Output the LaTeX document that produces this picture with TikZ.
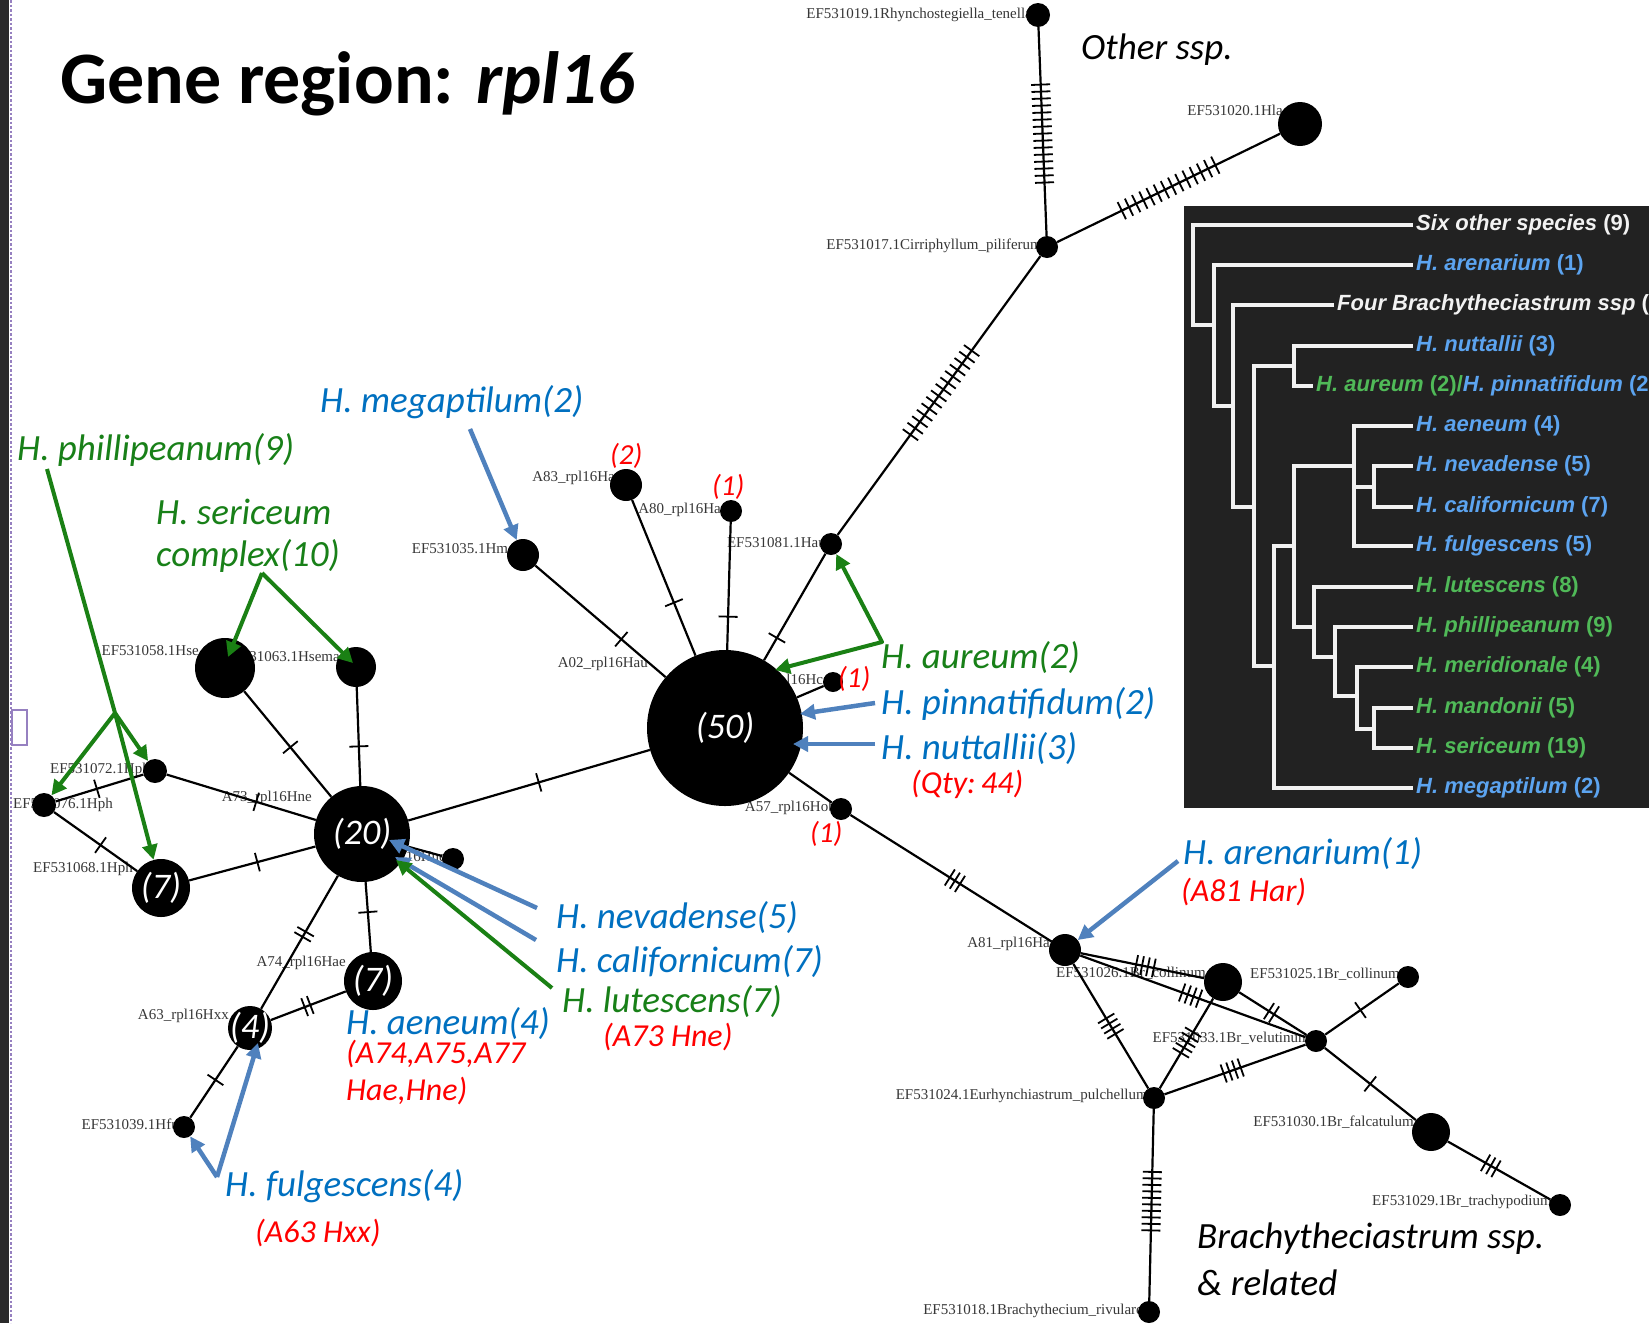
\documentclass[tikz,border=0pt]{standalone}
\usepackage{fontspec}
\setmainfont{Carlito}
\newfontfamily\hapfont{Liberation Serif}
\newfontfamily\treefont{Liberation Sans}
\usetikzlibrary{decorations.markings,arrows.meta}

\definecolor{annblue}{RGB}{0,112,192}
\definecolor{anngreen}{RGB}{24,128,24}
\definecolor{annred}{RGB}{255,0,0}
\definecolor{arrblue}{RGB}{79,129,189}
\definecolor{arrgreen}{RGB}{26,128,20}
\definecolor{panelbg}{RGB}{34,34,34}
\definecolor{treeblue}{RGB}{92,164,240}
\definecolor{treegreen}{RGB}{80,186,88}
\definecolor{treewhite}{RGB}{242,242,242}
\definecolor{hapgray}{RGB}{55,55,55}
\definecolor{framepurple}{RGB}{150,128,192}
\definecolor{stripdark}{RGB}{42,42,42}

\tikzset{
  hap/.style={circle, fill=black, draw=none, inner sep=0pt, minimum size=#1},
  hapnum/.style={text=white, font=\fontsize{36}{36}\selectfont\itshape, inner sep=0pt},
  haplab/.style={font=\hapfont\fontsize{15}{16}\selectfont, text=hapgray, inner sep=0pt},
  edge/.style={line width=2.2pt, black},
  mut/.style n args={3}{postaction={decorate, decoration={markings,
      mark=at position #1 with {\foreach \k in {1,...,#2}{%
        \draw[line width=1.8pt] ({(\k-(#2+1)/2)*#3},-9.5) -- ({(\k-(#2+1)/2)*#3},9.5);}}}}},
  ann/.style={font=\fontsize{37}{40}\selectfont\itshape, inner sep=0pt, anchor=west},
  annred/.style={font=\fontsize{32}{34}\selectfont\itshape, inner sep=0pt, anchor=west, text=annred},
  cnt/.style={font=\fontsize{29}{30}\selectfont\itshape, inner sep=0pt, anchor=west, text=annred},
  barrow/.style={draw=arrblue, line width=4.5pt, line join=round, -{Triangle[length=15pt,width=15pt]}},
  garrow/.style={draw=arrgreen, line width=4pt, line join=round, -{Triangle[length=15pt,width=15pt]}},
  branch/.style={draw=treewhite, line width=3.5pt},
  tlab/.style={font=\treefont\bfseries\fontsize{22}{24}\selectfont, anchor=west, inner sep=0pt, inner xsep=3pt},
}

\begin{document}
\begin{tikzpicture}[x=1pt,y=-1pt]
\useasboundingbox (0,0) rectangle (1649,1323);
\clip (0,0) rectangle (1649,1323);
\fill[white] (0,0) rectangle (1649,1323);

% window edge on the left
\fill[stripdark] (0,0) rectangle (9,1323);
\draw[framepurple, line width=2.5pt, dash pattern=on 2.5pt off 2pt] (11,0) -- (11,1323);
\draw[framepurple, line width=1.5pt] (12,710) rectangle (27,745);

% title
\node[anchor=base west, inner sep=0pt, font=\fontsize{74}{74}\selectfont\bfseries] (title) at (60,103) {Gene region: \textit{rpl16}};

% ---------- haplotype labels ----------
\node[haplab, anchor=east] at (1032,15) {EF531019.1Rhynchostegiella\_tenella};
\node[haplab, anchor=east] at (1283,110) {EF531020.1Hla};
\node[haplab, anchor=east] at (1042,246) {EF531017.1Cirriphyllum\_piliferum};
\node[haplab, anchor=east] at (826,543) {EF531081.1Hau};
\node[haplab, anchor=east] at (726,510) {A80\_rpl16Har};
\node[haplab, anchor=east] at (620,478) {A83\_rpl16Har};
\node[haplab, anchor=east] at (515,549) {EF531035.1Hme};
\node[haplab, anchor=east] at (648,664) {A02\_rpl16Hau};
\node[haplab, anchor=east] at (830,681) {rpl16Hca};
\node[haplab, anchor=east] at (836,808) {A57\_rpl16Hob};
\node[haplab, anchor=east] at (199,651) {EF531058.1Hse};
\node[haplab, anchor=east] at (340,657) {EF531063.1Hsema};
\node[haplab, anchor=east] at (150,770) {EF531072.1Hph};
\node[haplab, anchor=west] at (13,805) {EF531076.1Hph};
\node[haplab, anchor=east] at (312,798) {A73\_rpl16Hne};
\node[haplab, anchor=east] at (133,869) {EF531068.1Hph};
\node[haplab, anchor=east] at (346,963) {A74\_rpl16Hae};
\node[haplab, anchor=east] at (229,1016) {A63\_rpl16Hxx};
\node[haplab, anchor=east] at (179,1124) {EF531039.1Hfu};
\node[haplab, anchor=east] at (446,858) {rpl16Hne};
\node[haplab, anchor=east] at (1055,944) {A81\_rpl16Har};
\node[haplab, anchor=east] at (1206,973) {EF531026.1Br\_collinum};
\node[haplab, anchor=east] at (1400,974) {EF531025.1Br\_collinum};
\node[haplab, anchor=east] at (1310,1038) {EF531033.1Br\_velutinum};
\node[haplab, anchor=east] at (1148,1096) {EF531024.1Eurhynchiastrum\_pulchellum};
\node[haplab, anchor=east] at (1414,1122) {EF531030.1Br\_falcatulum};
\node[haplab, anchor=east] at (1552,1202) {EF531029.1Br\_trachypodium};
\node[haplab, anchor=east] at (1143,1311) {EF531018.1Brachythecium\_rivulare};

% ---------- haplotypes ----------
\node[hap=156pt] (n50) at (725,728) {};
\node[hap=96pt]  (n20) at (362,834) {};
\node[hap=24pt]  (rhy) at (1038,15) {};
\node[hap=44pt]  (hla) at (1300,124) {};
\node[hap=22pt]  (cir) at (1047,247) {};
\node[hap=22pt]  (hau) at (831,544) {};
\node[hap=22pt]  (a80) at (731,511) {};
\node[hap=32pt]  (a83) at (626,485) {};
\node[hap=32pt]  (hme) at (523,555) {};
\node[hap=20pt]  (hca) at (833,682) {};
\node[hap=22pt]  (a57) at (841,809) {};
\node[hap=22pt]  (hsm) at (453,859) {};
\node[hap=60pt]  (hse) at (225,668) {};
\node[hap=40pt]  (hsa) at (356,667) {};
\node[hap=24pt]  (p72) at (155,771) {};
\node[hap=24pt]  (p76) at (44,805) {};
\node[hap=58pt]  (s7a) at (161,888) {};
\node[hap=58pt]  (s7b) at (373,981) {};
\node[hap=44pt]  (s4)  at (250,1028) {};
\node[hap=22pt]  (hfu) at (184,1127) {};
\node[hap=32pt]  (a81) at (1065,950) {};
\node[hap=38pt]  (bcb) at (1223,982) {};
\node[hap=22pt]  (b25) at (1408,977) {};
\node[hap=22pt]  (bve) at (1316,1041) {};
\node[hap=22pt]  (bpu) at (1154,1098) {};
\node[hap=38pt]  (bfa) at (1431,1132) {};
\node[hap=22pt]  (btr) at (1560,1205) {};
\node[hap=22pt]  (bri) at (1149,1312) {};

\node[hapnum] at (n50) {(50)};
\node[hapnum] at (n20) {(20)};
\node[hapnum] at (s7a) {(7)};
\node[hapnum] at (s7b) {(7)};
\node[hapnum] at (s4)  {(4)};

% ---------- mutational links ----------
\draw[edge, mut={0.51}{15}{7}] (rhy) -- (cir);
\draw[edge, mut={0.5}{14}{8}] (cir) -- (hla);
\draw[edge, mut={0.49}{14}{8}] (cir) -- (hau);
\draw[edge, mut={0.79}{1}{6}] (hau) -- (n50);
\draw[edge, mut={0.74}{1}{6}] (a80) -- (n50);
\draw[edge, mut={0.66}{1}{6}] (a83) -- (n50);
\draw[edge, mut={0.66}{1}{6}] (hme) -- (n50);
\draw[edge] (hca) -- (n50);
\draw[edge] (n50) -- (a57);
\draw[edge, mut={0.54}{1}{6}] (n20) -- (n50);
\draw[edge, mut={0.52}{3}{6}] (a57) -- (a81);
\draw[edge, mut={0.53}{1}{6}] (hse) -- (n20);
\draw[edge, mut={0.6}{1}{6}] (hsa) -- (n20);
\draw[edge, mut={0.6}{1}{6}] (p72) -- (n20);
\draw[edge, mut={0.47}{1}{6}] (p76) -- (p72);
\draw[edge, mut={0.56}{1}{6}] (p76) -- (s7a);
\draw[edge, mut={0.54}{1}{6}] (s7a) -- (n20);
\draw[edge, mut={0.44}{2}{6}] (n20) -- (s4);
\draw[edge, mut={0.43}{1}{6}] (n20) -- (s7b);
\draw[edge, mut={0.49}{2}{6}] (s4) -- (s7b);
\draw[edge, mut={0.47}{1}{6}] (s4) -- (hfu);
\draw[edge] (n20) -- (hsm);
\draw[edge, mut={0.52}{4}{6}] (a81) -- (bcb);
\draw[edge, mut={0.49}{4}{6}] (a81) -- (bve);
\draw[edge, mut={0.48}{2}{6}] (bcb) -- (bve);
\draw[edge, mut={0.5}{4}{6}] (a81) -- (bpu);
\draw[edge, mut={0.49}{5}{6}] (bcb) -- (bpu);
\draw[edge, mut={0.48}{4}{6}] (bpu) -- (bve);
\draw[edge, mut={0.48}{1}{6}] (bve) -- (b25);
\draw[edge, mut={0.5}{1}{6}] (bve) -- (bfa);
\draw[edge, mut={0.42}{3}{6}] (bfa) -- (btr);
\draw[edge, mut={0.48}{10}{6.5}] (bpu) -- (bri);

% ---------- annotations ----------
\node[ann] (tother) at (1081,50) {Other ssp.};
\node[ann, text=annblue] (tmega) at (320,402) {H. megaptilum(2)};
\node[ann, text=anngreen] (tphil) at (17,450) {H. phillipeanum(9)};
\node[ann, text=anngreen] (tseri) at (156,512) {H. sericeum};
\node[ann, text=anngreen] (tcomp) at (156,556) {complex(10)};
\node[ann, text=anngreen] (taur) at (881,658) {H. aureum(2)};
\node[ann, text=annblue] (tpin) at (881,704) {H. pinnatifidum(2)};
\node[ann, text=annblue] (tnut) at (881,749) {H. nuttallii(3)};
\node[annred] (tqty) at (911,784) {(Qty:\,44)};
\node[cnt] (c83) at (610,456) {(2)};
\node[cnt] (c80) at (712,487) {(1)};
\node[cnt] (cca) at (838,679) {(1)};
\node[cnt] (c57) at (810,834) {(1)};
\node[ann, text=annblue] (tare) at (1183,854) {H. arenarium(1)};
\node[annred] (tare2) at (1181,892) {(A81 Har)};
\node[ann, text=annblue] (tnev) at (556,918) {H. nevadense(5)};
\node[ann, text=annblue] (tcal) at (556,962) {H. californicum(7)};
\node[ann, text=anngreen] (tlut) at (562,1002) {H. lutescens(7)};
\node[annred] (tlut2) at (603,1037) {(A73 Hne)};
\node[ann, text=annblue] (taen) at (346,1024) {H. aeneum(4)};
\node[annred] (taen2) at (346,1054) {(A74,A75,A77};
\node[annred] (taen3) at (346,1091) {Hae,Hne)};
\node[ann, text=annblue] (tful) at (225,1186) {H. fulgescens(4)};
\node[annred] (tful2) at (255,1233) {(A63 Hxx)};
\node[ann] (tbra) at (1197,1239) {Brachytheciastrum ssp.};
\node[ann] (tbra2) at (1197,1283) {\& related};

% arrow anchor points
\coordinate (megS) at (470,429);
\coordinate (phS) at (47,469);
\coordinate (phJ) at (115,713);
\coordinate (seA) at (262,573);
\coordinate (seT1) at (228,657);
\coordinate (seT2) at (353,663);
\coordinate (auC) at (882,642);
\coordinate (auT) at (775,670);
\coordinate (piS) at (875,703);
\coordinate (piT) at (800,714);
\coordinate (nuS) at (875,744);
\coordinate (nuT) at (793,744);
\coordinate (arS) at (1178,861);
\coordinate (neS) at (537,908);
\coordinate (neT) at (389,840);
\coordinate (caS) at (536,940);
\coordinate (caT) at (395,857);
\coordinate (luS) at (552,988);
\coordinate (luT) at (396,860);
\coordinate (fuA) at (217,1177);
\coordinate (fuT) at (258,1043);

\draw[barrow] (megS) -- (hme);
\draw[garrow] (phS) -- (phJ) -- (s7a);
\draw[garrow] (phJ) -- (p76);
\draw[garrow] (phJ) -- (p72);
\draw[garrow] (seA) -- (seT1);
\draw[garrow] (seA) -- (seT2);
\draw[garrow, {Triangle[length=15pt,width=15pt]}-{Triangle[length=15pt,width=15pt]}] (hau) -- (auC) -- (auT);
\draw[barrow] (piS) -- (piT);
\draw[barrow] (nuS) -- (nuT);
\draw[barrow] (arS) -- (a81);
\draw[barrow] (neS) -- (neT);
\draw[barrow] (caS) -- (caT);
\draw[garrow] (luS) -- (luT);
\draw[barrow] (fuA) -- (hfu);
\draw[barrow] (fuA) -- (fuT);

% ---------- phylogeny panel ----------
\fill[panelbg] (1184,206) rectangle (1649,808);
\node[tlab, text=treewhite] (t1) at (1413,225) {\itshape Six other species \upshape(9)};
\node[tlab, text=treeblue] (t2) at (1413,265) {\itshape H. arenarium \upshape(1)};
\node[tlab, text=treewhite] (t3) at (1334,305) {\itshape Four Brachytheciastrum ssp \upshape(};
\node[tlab, text=treeblue] (t4) at (1413,346) {\itshape H. nuttallii \upshape(3)};
\node[tlab] (t5) at (1313,386) {\color{treegreen}\itshape H. aureum \upshape(2)/\color{treeblue}\itshape H. pinnatifidum \upshape(2};
\node[tlab, text=treeblue] (t6) at (1413,426) {\itshape H. aeneum \upshape(4)};
\node[tlab, text=treeblue] (t7) at (1413,466) {\itshape H. nevadense \upshape(5)};
\node[tlab, text=treeblue] (t8) at (1413,507) {\itshape H. californicum \upshape(7)};
\node[tlab, text=treeblue] (t9) at (1413,546) {\itshape H. fulgescens \upshape(5)};
\node[tlab, text=treegreen] (t10) at (1413,587) {\itshape H. lutescens \upshape(8)};
\node[tlab, text=treegreen] (t11) at (1413,627) {\itshape H. phillipeanum \upshape(9)};
\node[tlab, text=treegreen] (t12) at (1413,667) {\itshape H. meridionale \upshape(4)};
\node[tlab, text=treegreen] (t13) at (1413,708) {\itshape H. mandonii \upshape(5)};
\node[tlab, text=treegreen] (t14) at (1413,748) {\itshape H. sericeum \upshape(19)};
\node[tlab, text=treeblue] (t15) at (1413,788) {\itshape H. megaptilum \upshape(2)};

\draw[branch] (t1.west) -| (1193,325) -- (1214,325);
\draw[branch] (t2.west) -| (1214,406) -- (1233,406);
\draw[branch] (t3.west) -| (1233,507) -- (1254,507);
\draw[branch] (1294,366) -- (1254,366) |- (1274,666);
\draw[branch] (t4.west) -| (1294,386) -- (t5.west);
\draw[branch] (1294,546) -- (1274,546) |- (t15.west);
\draw[branch] (1354,466) -- (1294,466) |- (1314,627);
\draw[branch] (t6.west) -| (1354,546) -- (t9.west);
\draw[branch] (1354,487) -- (1374,487);
\draw[branch] (t7.west) -| (1374,507) -- (t8.west);
\draw[branch] (t10.west) -| (1314,657) -- (1335,657);
\draw[branch] (t11.west) -| (1335,696) -- (1357,696);
\draw[branch] (t12.west) -| (1357,729) -- (1374,729);
\draw[branch] (t13.west) -| (1374,748) -- (t14.west);
\end{tikzpicture}
\end{document}
